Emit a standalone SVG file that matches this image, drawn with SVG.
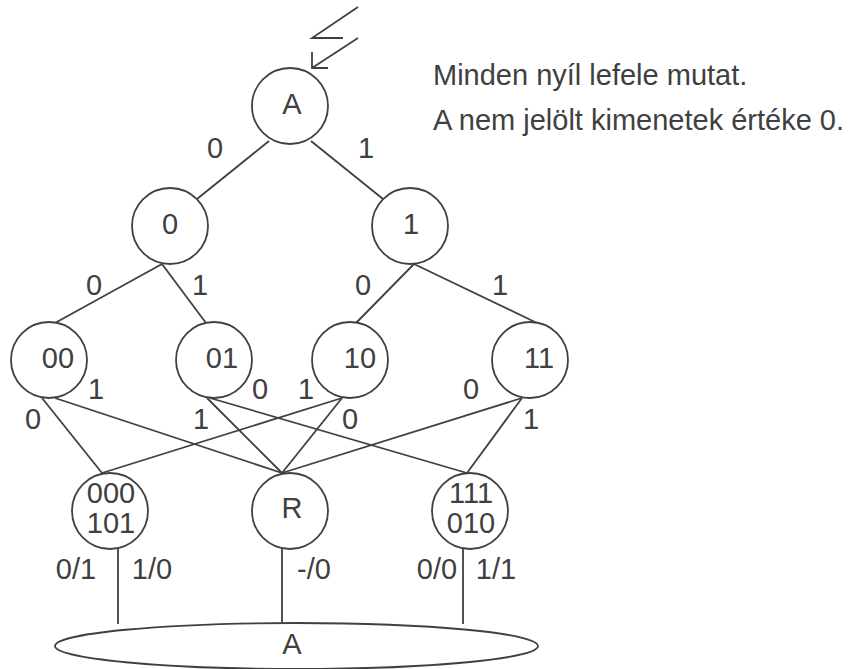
<svg xmlns="http://www.w3.org/2000/svg" width="859" height="669" viewBox="0 0 859 669">
<style>
  .n { fill: #ffffff; stroke: #404040; stroke-width: 1.8; }
  .e { fill: none; stroke: #404040; stroke-width: 1.8; }
  text { font-family: "Liberation Sans", Arial, sans-serif; font-size: 29px; fill: #404040; }
  .m { text-anchor: middle; }
</style>
<rect width="859" height="669" fill="#ffffff"/>

<g id="connectors">
  <!-- entry lightning arrow -->
  <path class="e" d="M358,7 L312,38 L343,38 M358,38 L312,68 M312,52 L312,68 L328,68"/>
  <!-- A -> 0, 1 -->
  <line class="e" x1="269" y1="141" x2="197" y2="199"/>
  <line class="e" x1="311" y1="141" x2="383" y2="199"/>
  <!-- level 1 -> level 2 -->
  <line class="e" x1="162" y1="264" x2="55" y2="323"/>
  <line class="e" x1="162" y1="264" x2="206" y2="323"/>
  <line class="e" x1="414" y1="264" x2="356" y2="323"/>
  <line class="e" x1="414" y1="264" x2="537" y2="323"/>
  <!-- level 2 -> level 3 -->
  <line class="e" x1="42" y1="398" x2="102" y2="473"/>
  <line class="e" x1="55" y1="398" x2="282" y2="473"/>
  <line class="e" x1="207" y1="398" x2="282" y2="473"/>
  <line class="e" x1="210" y1="398" x2="467" y2="473"/>
  <line class="e" x1="342" y1="398" x2="102" y2="473"/>
  <line class="e" x1="342" y1="398" x2="282" y2="473"/>
  <line class="e" x1="522" y1="398" x2="282" y2="473"/>
  <line class="e" x1="522" y1="398" x2="467" y2="473"/>
  <!-- level 3 -> A -->
  <line class="e" x1="118" y1="549" x2="118" y2="624"/>
  <line class="e" x1="282" y1="549" x2="282" y2="623"/>
  <line class="e" x1="463" y1="549" x2="463" y2="624"/>
  <!-- edge labels -->
  <text class="m" x="215" y="158">0</text>
  <text class="m" x="366" y="158">1</text>
  <text class="m" x="94" y="295">0</text>
  <text class="m" x="200" y="295">1</text>
  <text class="m" x="363" y="295">0</text>
  <text class="m" x="500" y="295">1</text>
  <text class="m" x="96" y="399">1</text>
  <text class="m" x="33" y="429">0</text>
  <text class="m" x="260" y="399">0</text>
  <text class="m" x="201" y="429">1</text>
  <text class="m" x="306" y="399">1</text>
  <text class="m" x="350" y="429">0</text>
  <text class="m" x="471" y="399">0</text>
  <text class="m" x="531" y="429">1</text>
  <text class="m" x="76" y="579">0/1</text>
  <text class="m" x="152" y="579">1/0</text>
  <text class="m" x="314" y="579">-/0</text>
  <text class="m" x="437" y="579">0/0</text>
  <text class="m" x="496" y="579">1/1</text>
</g>

<g id="node-A">
  <circle class="n" cx="290" cy="106" r="38"/>
  <text class="m" x="292" y="114">A</text>
</g>
<g id="node-0">
  <circle class="n" cx="170" cy="226" r="38"/>
  <text class="m" x="170" y="234">0</text>
</g>
<g id="node-1">
  <circle class="n" cx="410" cy="226" r="38"/>
  <text class="m" x="411" y="234">1</text>
</g>
<g id="node-00">
  <circle class="n" cx="49" cy="360" r="38"/>
  <text class="m" x="58" y="368">00</text>
</g>
<g id="node-01">
  <circle class="n" cx="214" cy="360" r="38"/>
  <text class="m" x="222" y="368">01</text>
</g>
<g id="node-10">
  <circle class="n" cx="350" cy="360" r="38"/>
  <text class="m" x="360" y="368">10</text>
</g>
<g id="node-11">
  <circle class="n" cx="530" cy="360" r="38"/>
  <text class="m" x="539" y="368">11</text>
</g>
<g id="node-000-101">
  <circle class="n" cx="110" cy="511" r="38"/>
  <text class="m" x="111" y="503">000</text>
  <text class="m" x="111" y="533">101</text>
</g>
<g id="node-R">
  <circle class="n" cx="290" cy="511" r="38"/>
  <text class="m" x="292" y="518">R</text>
</g>
<g id="node-111-010">
  <circle class="n" cx="470" cy="511" r="38"/>
  <text class="m" x="471" y="503">111</text>
  <text class="m" x="471" y="533">010</text>
</g>
<g id="node-A-bottom">
  <ellipse class="n" cx="296.5" cy="646" rx="241.5" ry="23"/>
  <text class="m" x="292" y="654">A</text>
</g>

<g id="note">
  <text x="433" y="85">Minden nyíl lefele mutat.</text>
  <text x="433" y="130">A nem jelölt kimenetek értéke 0.</text>
</g>
</svg>
